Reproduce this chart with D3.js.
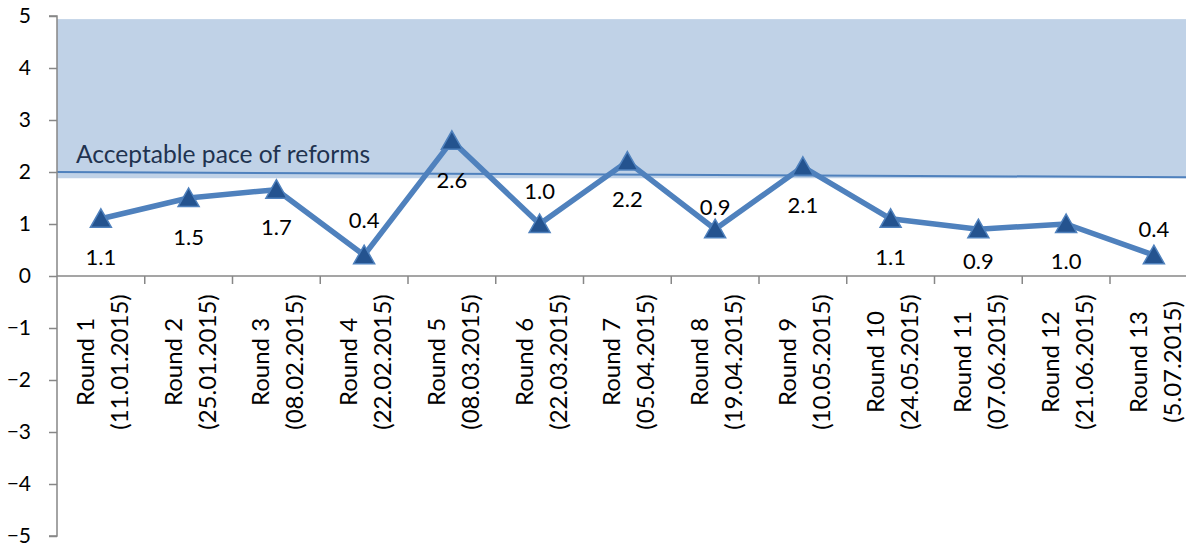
<!DOCTYPE html>
<html>
<head>
<meta charset="utf-8">
<script src="https://cdn.jsdelivr.net/npm/d3@7"></script>
<style>
  body { margin: 0; background: #fff; }
  svg { display: block; font-family: Lato, "Open Sans", sans-serif; }
</style>
</head>
<body>
<div class="svg-wrap"></div>
<script>
// data
let rounds = ["Round 1", "Round 2", "Round 3", "Round 4", "Round 5", "Round 6", "Round 7",
  "Round 8", "Round 9", "Round 10", "Round 11", "Round 12", "Round 13"];
let dates = ["(11.01.2015)", "(25.01.2015)", "(08.02.2015)", "(22.02.2015)", "(08.03.2015)",
  "(22.03.2015)", "(05.04.2015)", "(19.04.2015)", "(10.05.2015)", "(24.05.2015)",
  "(07.06.2015)", "(21.06.2015)", "(5.07.2015)"];
let pace = [1.1, 1.5, 1.66, 0.4, 2.6, 1.0, 2.2, 0.9, 2.1, 1.1, 0.9, 1.0, 0.4];
let acceptableBand = [1.88, 4.94];
let acceptableLine = [2.0, 1.9];
let yTicks = [-5, -4, -3, -2, -1, 0, 1, 2, 3, 4, 5];
let bandLabel = "Acceptable pace of reforms";

// label offsets (px from point), negative = above
let labelDy = [46, 47, 45, -27, 47, -25, 45, -14, 46, 46, 40, 45, -18];

var width = 1186, height = 546;
var left = 57, step = 87.75;

var svg = d3.select(".svg-wrap")
  .append("svg")
  .attr("width", width)
  .attr("height", height);

var x = d3.scaleBand()
  .domain(rounds)
  .range([left, left + step * rounds.length]);

var y = d3.scaleLinear()
  .domain([-5, 5])
  .range([536, 16]);

// shaded band
svg.append("rect")
  .attr("x", x.range()[0])
  .attr("y", y(acceptableBand[1]))
  .attr("width", x.range()[1] - x.range()[0])
  .attr("height", y(acceptableBand[0]) - y(acceptableBand[1]))
  .style("fill", "#c0d2e7");

svg.append("line")
  .attr("x1", x.range()[0])
  .attr("x2", x.range()[1])
  .attr("y1", y(acceptableLine[0]))
  .attr("y2", y(acceptableLine[1]))
  .style("stroke", "#4f81bd")
  .style("stroke-width", 2);

svg.append("text")
  .attr("x", 76)
  .attr("y", y(acceptableLine[0]) - 9)
  .style("font-size", "24.6px")
  .style("fill", "#1f3350")
  .text(bandLabel);

// y axis
var yAxis = d3.axisLeft(y).tickValues(yTicks).tickSize(8).tickPadding(18).tickFormat(d3.format("d"));
var gy = svg.append("g")
  .attr("transform", "translate(" + left + ",0)")
  .call(yAxis);
gy.select(".domain").attr("d", "M-8," + y(5) + "H0V" + y(-5) + "H-8");
gy.selectAll("path, line").style("stroke", "#878787").style("stroke-width", 1.5);
gy.selectAll("text").style("font-size", "21px").style("fill", "#000")
  .style("font-family", "Lato, sans-serif");

// x axis at zero
var gx = svg.append("g").attr("transform", "translate(0," + y(0) + ")");
gx.append("line")
  .attr("x1", left).attr("x2", x.range()[1])
  .style("stroke", "#878787").style("stroke-width", 1.5);
gx.selectAll(".tk")
  .data(rounds.slice(1))
  .enter()
  .append("line")
  .attr("x1", d => x(d)).attr("x2", d => x(d))
  .attr("y1", 0).attr("y2", 8)
  .style("stroke", "#878787").style("stroke-width", 1.5);

var xl = svg.selectAll(".xlabel")
  .data(rounds)
  .enter()
  .append("text")
  .attr("class", "xlabel")
  .attr("transform", d => "translate(" + (x(d) + x.bandwidth() / 2) + ",362) rotate(-90)")
  .style("text-anchor", "middle")
  .style("font-size", "24px")
  .style("fill", "#000");
xl.append("tspan").attr("x", 0).attr("y", -7).text(d => d);
xl.append("tspan").attr("x", 0).attr("y", 27).text((d, i) => dates[i]);

// series
var cx = (d, i) => x(rounds[i]) + x.bandwidth() / 2;
var line = d3.line()
  .x((d, i) => cx(d, i))
  .y(d => y(d));

svg.append("path")
  .datum(pace)
  .attr("d", line)
  .style("fill", "none")
  .style("stroke", "#4f81bd")
  .style("stroke-width", 5.5)
  .style("stroke-linejoin", "round");

svg.selectAll(".marker")
  .data(pace)
  .enter()
  .append("path")
  .attr("class", "marker")
  .attr("d", "M0,-10L10.5,8.5L-10.5,8.5Z")
  .attr("transform", (d, i) => "translate(" + cx(d, i) + "," + y(d) + ")")
  .style("fill", "#24538f")
  .style("stroke", "#4f81bd")
  .style("stroke-width", 1.5);

svg.selectAll(".dlabel")
  .data(pace)
  .enter()
  .append("text")
  .attr("class", "dlabel")
  .attr("x", (d, i) => cx(d, i))
  .attr("y", (d, i) => y(d) + labelDy[i])
  .style("text-anchor", "middle")
  .style("font-size", "22px")
  .style("fill", "#000")
  .text(d => d.toFixed(1));
</script>
</body>
</html>
